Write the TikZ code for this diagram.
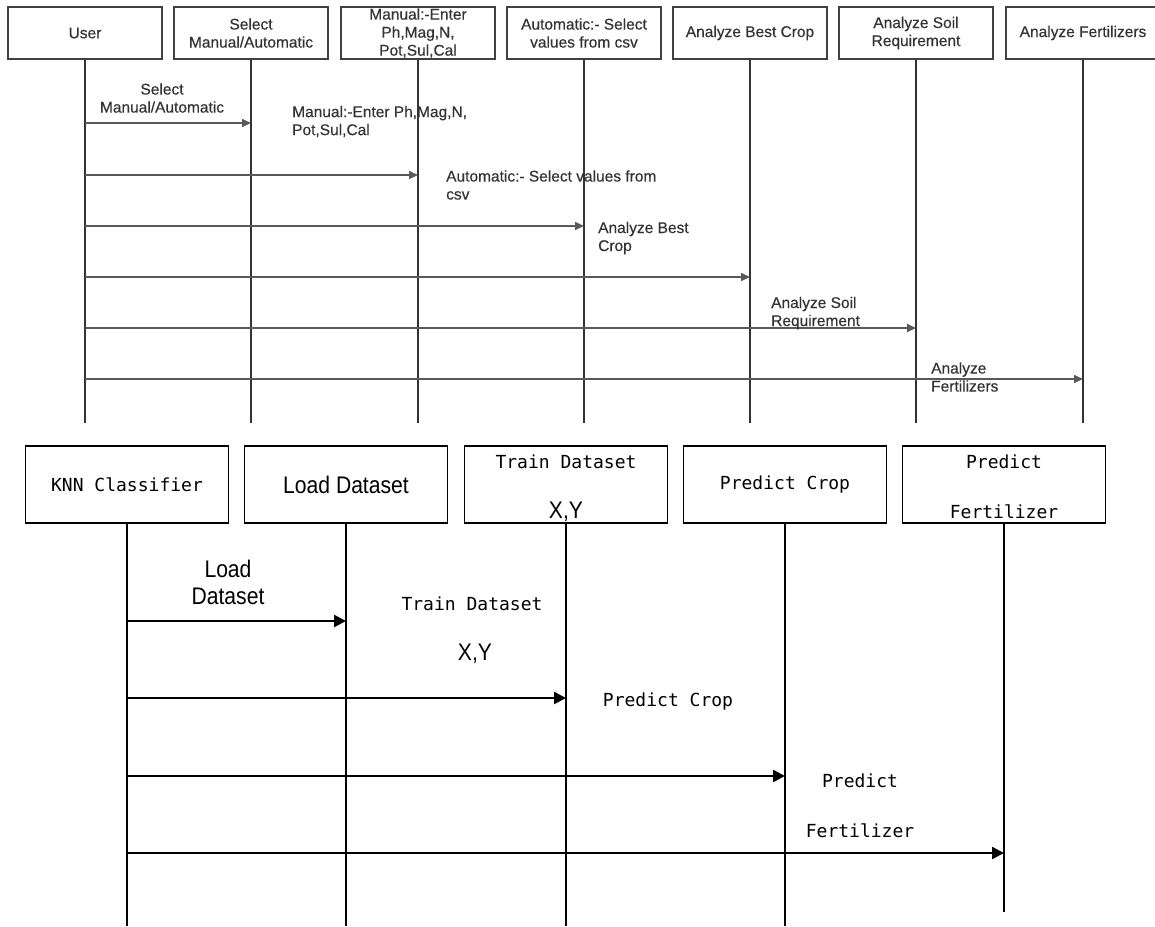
\documentclass[tikz,border=0pt]{standalone}
\usepackage{fontspec}
\usepackage{graphicx}
\setmainfont{Liberation Sans}
\newfontfamily\topfont{Liberation Sans}[FakeBold=0.35]
\newfontfamily\monofont{DejaVu Sans Mono}
\usetikzlibrary{arrows.meta}
\newcommand{\narrowtxt}[1]{\scalebox{0.88}[1]{#1}}

\begin{document}
\begin{tikzpicture}[x=1pt,y=-1pt,
  topbox/.style={draw=black!75, line width=1.3pt, minimum width=154pt, minimum height=52pt,
    inner sep=0pt, text=black!80, font=\topfont\fontsize{15.5}{18}\selectfont, align=center},
  toplabel/.style={text=black!80, font=\topfont\fontsize{15.5}{18}\selectfont, align=left, anchor=west, inner sep=0pt},
  toplife/.style={draw=black!80, line width=1.1pt},
  topmsg/.style={draw=black!65, line width=1.6pt, -{Triangle[length=9pt,width=8pt]}},
  lowbox/.style={draw=black, line width=1.5pt, minimum width=203pt, minimum height=77pt, inner sep=0pt},
  monotext/.style={font=\monofont\fontsize{18}{20}\selectfont, inner sep=0pt},
  narrowtext/.style={font=\fontsize{24}{27}\selectfont, inner sep=0pt, align=center},
  lowlife/.style={draw=black, line width=1.1pt},
  lowmsg/.style={draw=black, line width=2.4pt, -{Triangle[length=12pt,width=12pt]}},
]
\useasboundingbox (0,0) rectangle (1155,926);
\fill[white] (0,0) rectangle (1155,926);

% ---------- upper sequence: user side ----------
\node[topbox] (user) at (85,33)   {User};
\node[topbox] (sel)  at (251,33)  {Select\\Manual/Automatic};
\node[topbox] (man)  at (418,33)  {Manual:-Enter\\Ph,Mag,N,\\Pot,Sul,Cal};
\node[topbox] (auto) at (584,33)  {Automatic:- Select\\values from csv};
\node[topbox] (best) at (750,33)  {Analyze Best Crop};
\node[topbox] (soil) at (916,33)  {Analyze Soil\\Requirement};
\node[topbox] (fert) at (1083,33) {Analyze Fertilizers};

\coordinate (topend) at (0,423);
\foreach \n in {user,sel,man,auto,best,soil,fert}
  \draw[toplife] (\n.south) -- (\n.south |- topend);

\coordinate (tr1) at (0,123);
\coordinate (tr2) at (0,175);
\coordinate (tr3) at (0,226);
\coordinate (tr4) at (0,277);
\coordinate (tr5) at (0,328);
\coordinate (tr6) at (0,379);
\draw[topmsg] (user |- tr1) -- (sel |- tr1);
\draw[topmsg] (user |- tr2) -- (man |- tr2);
\draw[topmsg] (user |- tr3) -- (auto |- tr3);
\draw[topmsg] (user |- tr4) -- (best |- tr4);
\draw[topmsg] (user |- tr5) -- (soil |- tr5);
\draw[topmsg] (user |- tr6) -- (fert |- tr6);

\node[toplabel, align=center, anchor=center] (tl1) at (162,98) {Select\\Manual/Automatic};
\node[toplabel] (tl2) at (292,121.5) {Manual:-Enter Ph,Mag,N,\\Pot,Sul,Cal};
\node[toplabel] (tl3) at (446,185) {Automatic:- Select values from\\csv};
\node[toplabel] (tl4) at (598,238) {Analyze Best\\Crop};
\node[toplabel] (tl5) at (771,313) {Analyze Soil\\Requirement};
\node[toplabel] (tl6) at (931,377) {Analyze\\Fertilizers};

% ---------- lower sequence: classifier side ----------
\node[lowbox, monotext, minimum width=203pt, minimum height=77pt] (knn) at (127,484.5) {KNN Classifier};
\node[lowbox, narrowtext] (load) at (346,484.5) {\narrowtxt{Load Dataset}};
\node[lowbox] (train) at (566,484.5) {};
\node[lowbox, monotext, minimum width=203pt, minimum height=77pt] (crop) at (785,484.5) {Predict Crop};
\node[lowbox] (pfert) at (1004,484.5) {};
\node[monotext] (trainA) at (566,462) {Train Dataset};
\node[narrowtext] (trainB) at (566,512) {\narrowtxt{X,Y}};
\node[monotext] (pfertA) at (1004,462) {Predict};
\node[monotext] (pfertB) at (1004,512) {Fertilizer};

\coordinate (lowend) at (0,926);
\coordinate (lowend2) at (0,912);
\foreach \n in {knn,load,train,crop}
  \draw[lowlife] (\n.south) -- (\n.south |- lowend);
\draw[lowlife] (pfert.south) -- (pfert.south |- lowend2);

\coordinate (lr1) at (0,621);
\coordinate (lr2) at (0,698);
\coordinate (lr3) at (0,776);
\coordinate (lr4) at (0,853);
\draw[lowmsg] (knn |- lr1) -- (load |- lr1);
\draw[lowmsg] (knn |- lr2) -- (train |- lr2);
\draw[lowmsg] (knn |- lr3) -- (crop |- lr3);
\draw[lowmsg] (knn |- lr4) -- (pfert |- lr4);

\node[narrowtext] (ml1) at (228,582.5) {\narrowtxt{Load}\\\narrowtxt{Dataset}};
\node[monotext] (ml2) at (472,604) {Train Dataset};
\node[narrowtext] (ml2b) at (475,654) {\narrowtxt{X,Y}};
\node[monotext] (ml3) at (668,702) {Predict Crop};
\node[monotext] (ml4a) at (860,781) {Predict};
\node[monotext] (ml4b) at (860,831) {Fertilizer};
\end{tikzpicture}
\end{document}
